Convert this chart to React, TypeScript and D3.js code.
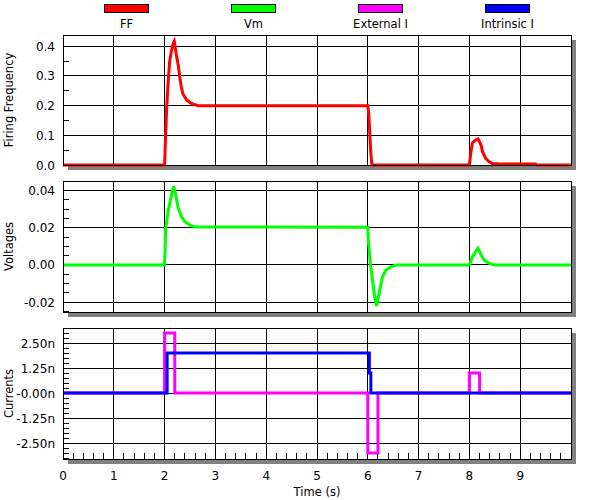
import * as d3 from "d3";

// firing frequency, [time s, value]
const FF_POINTS: [number, number][] = [
  [0, 0], [2.0, 0], [2.02, 0.1], [2.04, 0.19], [2.07, 0.28], [2.1, 0.35], [2.135, 0.385],
  [2.17, 0.41], [2.19, 0.417], [2.23, 0.372], [2.27, 0.335], [2.3, 0.295], [2.33, 0.262],
  [2.36, 0.24], [2.43, 0.22], [2.5, 0.21], [2.56, 0.205], [2.66, 0.2], [6.0, 0.2],
  [6.02, 0.17], [6.04, 0.1], [6.06, 0.04], [6.08, 0], [8.0, 0], [8.03, 0.045],
  [8.06, 0.075], [8.13, 0.085], [8.17, 0.088], [8.23, 0.067], [8.26, 0.044],
  [8.32, 0.022], [8.39, 0.011], [8.45, 0.005], [8.6, 0.003], [9.3, 0.003], [9.32, 0], [10, 0]
];

// membrane voltage
const VM_POINTS: [number, number][] = [
  [0, 0], [2.0, 0], [2.02, 0.019], [2.07, 0.029], [2.115, 0.035], [2.15, 0.0394],
  [2.18, 0.0425], [2.22, 0.0376], [2.265, 0.031], [2.33, 0.026], [2.4, 0.0233],
  [2.5, 0.0215], [2.6, 0.0205], [6.0, 0.0203], [6.01, 0.0134], [6.05, 0.001],
  [6.1, -0.0098], [6.14, -0.018], [6.175, -0.022], [6.23, -0.0143], [6.29, -0.0063],
  [6.36, -0.0027], [6.46, -0.0009], [6.56, 0], [8.0, 0], [8.06, 0.0045], [8.13, 0.0075],
  [8.17, 0.009], [8.23, 0.0054], [8.29, 0.0027], [8.39, 0.0009], [8.45, 0.0003], [8.5, 0], [10, 0]
];

// step currents (nA), value holds from each time until the next
const EXT_TIMES = [0, 2.0, 2.2, 6.0, 6.2, 8.0, 8.2, 10];
const EXT_VALUES = [0, 3, 0, -3, 0, 1, 0, 0];
const INT_TIMES = [0, 2.05, 6.03, 6.06, 10];
const INT_VALUES = [0, 2, 1, 0, 0];

const X_TICKS = [0, 1, 2, 3, 4, 5, 6, 7, 8, 9];
const FF_TICKS = [0, 0.1, 0.2, 0.3, 0.4];
const FF_LABELS = ["0.0", "0.1", "0.2", "0.3", "0.4"];
const VM_TICKS = [-0.02, 0, 0.02, 0.04];
const VM_LABELS = ["-0.02", "0.00", "0.02", "0.04"];
const I_TICKS = [-2.5, -1.25, 0, 1.25, 2.5];
const I_LABELS = ["-2.50n", "-1.25n", "-0.00n", "1.25n", "2.50n"];

const LEGEND = ["FF", "Vm", "External I", "Intrinsic I"];
const COLORS = ["#ff0000", "#00ff00", "#ff00ff", "#0000ff"];

const LEFT = 63;
const RIGHT = 571;
const FONT = "DejaVu Sans, Verdana, sans-serif";

const x = d3.scaleLinear().domain([0, 10]).range([LEFT, RIGHT]);

type PanelProps = {
  top: number;
  bottom: number;
  domain: [number, number];
  ticks: number[];
  labels: string[];
  minor: number;
  title: string;
  xMinor?: boolean;
  children: (y: d3.ScaleLinear<number, number>) => React.ReactNode;
};

function Panel({ top, bottom, domain, ticks, labels, minor, title, xMinor, children }: PanelProps) {
  const y = d3.scaleLinear().domain(domain).range([bottom, top]);
  const minorTicks = d3
    .range(Math.ceil(domain[0] / minor), Math.floor(domain[1] / minor) + 1)
    .map((k) => k * minor);
  const xMinorTicks = d3.range(1, 50).map((k) => k * 0.2);
  const mid = (top + bottom) / 2;
  return (
    <g>
      <rect x={LEFT + 5} y={top + 5} width={RIGHT - LEFT} height={bottom - top} fill="#808080" />
      <rect x={LEFT} y={top} width={RIGHT - LEFT} height={bottom - top} fill="#fff" />
      <g stroke="#000" strokeWidth={1} shapeRendering="crispEdges">
        {X_TICKS.slice(1).map((t) => (
          <line key={t} x1={x(t)} x2={x(t)} y1={top} y2={bottom} />
        ))}
        {ticks.map((t) => (
          <line key={t} x1={LEFT} x2={RIGHT} y1={y(t)} y2={y(t)} />
        ))}
        {minorTicks.map((t) => (
          <line key={t} x1={LEFT} x2={LEFT + 6} y1={y(t)} y2={y(t)} />
        ))}
        {xMinor &&
          xMinorTicks.map((t) => (
            <line key={t} x1={x(t)} x2={x(t)} y1={bottom} y2={bottom - 6} />
          ))}
      </g>
      {children(y)}
      <rect
        x={LEFT}
        y={top}
        width={RIGHT - LEFT}
        height={bottom - top}
        fill="none"
        stroke="#000"
        shapeRendering="crispEdges"
      />
      <g fontFamily={FONT} fontSize={12} fill="#000" textAnchor="end">
        {ticks.map((t, i) => (
          <text key={t} x={LEFT - 8} y={y(t) + 4.5}>
            {labels[i]}
          </text>
        ))}
      </g>
      <text
        transform={`translate(13,${mid}) rotate(-90)`}
        textAnchor="middle"
        fontFamily={FONT}
        fontSize={11.5}
      >
        {title}
      </text>
    </g>
  );
}

export default function App() {
  const pathFor = (y: d3.ScaleLinear<number, number>, pts: [number, number][], curve = d3.curveLinear) =>
    d3
      .line<[number, number]>()
      .x((d) => x(d[0]))
      .y((d) => y(d[1]))
      .curve(curve)(pts) ?? "";
  const ext = EXT_TIMES.map((t, i) => [t, EXT_VALUES[i]] as [number, number]);
  const intr = INT_TIMES.map((t, i) => [t, INT_VALUES[i]] as [number, number]);
  const legendX = d3.scaleBand<string>().domain(LEGEND).range([LEFT, RIGHT]);

  return (
    <svg
      width={600}
      height={500}
      style={{ position: "absolute", left: 0, top: 0, background: "#fff" }}
    >
      {LEGEND.map((name, i) => {
        const cx = (legendX(name) ?? 0) + legendX.bandwidth() / 2;
        return (
          <g key={name}>
            <rect x={cx - 22} y={4.5} width={44} height={8} fill={COLORS[i]} stroke="#000" shapeRendering="crispEdges" />
            <text x={cx} y={28} textAnchor="middle" fontFamily={FONT} fontSize={11.5}>
              {name}
            </text>
          </g>
        );
      })}

      <Panel top={35} bottom={165} domain={[0, 0.438]} ticks={FF_TICKS} labels={FF_LABELS} minor={0.05} title="Firing Frequency">
        {(y) => <path d={pathFor(y, FF_POINTS)} fill="none" stroke={COLORS[0]} strokeWidth={3} />}
      </Panel>

      <Panel top={181} bottom={312} domain={[-0.0253, 0.0452]} ticks={VM_TICKS} labels={VM_LABELS} minor={0.005} title="Voltages">
        {(y) => <path d={pathFor(y, VM_POINTS)} fill="none" stroke={COLORS[1]} strokeWidth={3} />}
      </Panel>

      <Panel top={328} bottom={459} domain={[-3.3, 3.25]} ticks={I_TICKS} labels={I_LABELS} minor={0.25} title="Currents" xMinor>
        {(y) => (
          <g fill="none" strokeWidth={3}>
            <path d={pathFor(y, ext, d3.curveStepAfter)} stroke={COLORS[2]} />
            <path d={pathFor(y, intr, d3.curveStepAfter)} stroke={COLORS[3]} />
          </g>
        )}
      </Panel>

      <g fontFamily={FONT} fontSize={12} textAnchor="middle">
        {X_TICKS.map((t) => (
          <text key={t} x={x(t)} y={480}>
            {t}
          </text>
        ))}
        <text x={(LEFT + RIGHT) / 2} y={496} fontSize={11.5}>
          Time (s)
        </text>
      </g>
    </svg>
  );
}
